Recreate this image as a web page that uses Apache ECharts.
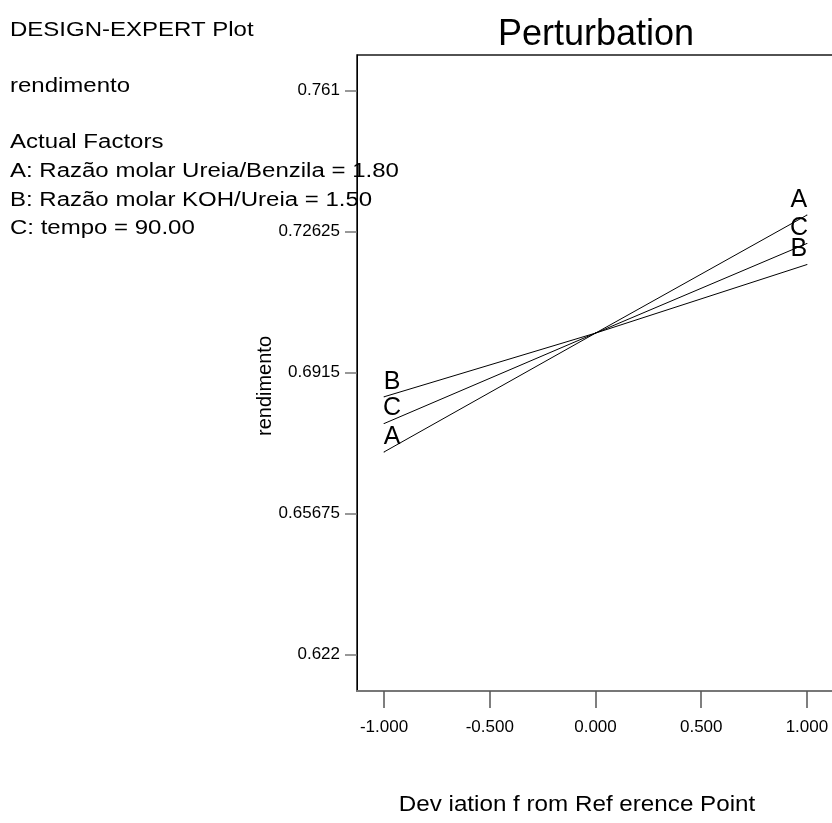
<!DOCTYPE html>
<html>
<head>
<meta charset="utf-8">
<script src="https://cdn.jsdelivr.net/npm/echarts@6/dist/echarts.min.js"></script>
<style>
  html, body { margin: 0; padding: 0; background: #fff; }
  #chart { width: 832px; height: 823px; }
</style>
</head>
<body>
<div id="chart"></div>
<script>
// Perturbation plot: response vs. coded deviation of each factor
const deviation = [-1, 0, 1];
const factorA = [0.6719, 0.7012, 0.7303];
const factorB = [0.6855, 0.7012, 0.7181];
const factorC = [0.6789, 0.7012, 0.7233];
const factorNames = ['A', 'B', 'C'];

const yTickValues = [0.622, 0.65675, 0.6915, 0.72625, 0.761];
const yTickLabels = ['0.622', '0.65675', '0.6915', '0.72625', '0.761'];
const xTickValues = [-1, -0.5, 0, 0.5, 1];
const xTickLabels = ['-1.000', '-0.500', '0.000', '0.500', '1.000'];

const headerLines = [
  'DESIGN-EXPERT Plot',
  'rendimento',
  'Actual Factors',
  'A: Razão molar Ureia/Benzila = 1.80',
  'B: Razão molar KOH/Ureia = 1.50',
  'C: tempo = 90.00'
];
const headerBaselines = [37, 93, 149, 178, 207, 235];

const FONT = 'Arial, "Liberation Sans", sans-serif';

function buildSeries(name, values) {
  const last = values.length - 1;
  const data = deviation.map((x, i) => {
    const item = { value: [x, values[i]] };
    if (i === 0 || i === last) {
      item.label = {
        show: true,
        formatter: name,
        position: 'top',
        distance: 2,
        offset: [i === 0 ? 8 : -8, 0]
      };
    }
    return item;
  });
  return {
    type: 'line',
    name: name,
    data: data,
    symbol: 'circle',
    symbolSize: 1,
    itemStyle: { color: '#000' },
    lineStyle: { color: '#000', width: 1 },
    label: { color: '#000', fontSize: 25, fontFamily: FONT },
    emphasis: { disabled: true },
    silent: true,
    z: 3
  };
}

const graphics = headerLines.map((t, i) => ({
  type: 'text',
  x: 10,
  y: headerBaselines[i] - 7,
  scaleX: 1.2,
  style: {
    text: t,
    font: '20px ' + FONT,
    fill: '#000',
    align: 'left',
    verticalAlign: 'middle'
  },
  z: 10
}));

graphics.push({
  type: 'text',
  x: 265,
  y: 386,
  rotation: Math.PI / 2,
  style: {
    text: 'rendimento',
    font: '20px ' + FONT,
    fill: '#000',
    align: 'center',
    verticalAlign: 'middle'
  }
});

graphics.push({
  type: 'text',
  x: 577,
  y: 805,
  scaleX: 1.1,
  style: {
    text: 'Dev iation f rom Ref erence Point',
    font: '22px ' + FONT,
    fill: '#000',
    align: 'center',
    verticalAlign: 'middle'
  }
});

const option = {
  animation: false,
  backgroundColor: '#fff',
  title: {
    text: 'Perturbation',
    left: 591,
    top: 12,
    textAlign: 'center',
    textStyle: { fontSize: 36, fontWeight: 'normal', color: '#000', fontFamily: FONT }
  },
  grid: {
    left: 357,
    top: 55,
    right: -2,
    bottom: 132,
    outerBoundsMode: 'none',
    containLabel: false,
    show: true,
    borderColor: '#1a1a1a',
    borderWidth: 1.5,
    backgroundColor: 'transparent'
  },
  xAxis: {
    type: 'value',
    min: -1.128,
    max: 1.128,
    splitLine: { show: false },
    axisLine: { show: true, onZero: false, lineStyle: { color: '#777', width: 2 } },
    axisTick: {
      show: true,
      customValues: xTickValues,
      length: 17,
      inside: false,
      lineStyle: { color: '#555', width: 1.5 }
    },
    axisLabel: {
      customValues: xTickValues,
      formatter: v => xTickLabels[xTickValues.indexOf(v)] ?? v.toFixed(3),
      margin: 28,
      fontSize: 17,
      color: '#000',
      fontFamily: FONT
    }
  },
  yAxis: {
    type: 'value',
    min: 0.61296,
    max: 0.76977,
    splitLine: { show: false },
    axisLine: { show: true, onZero: false, lineStyle: { color: '#000', width: 1 } },
    axisTick: {
      show: true,
      customValues: yTickValues,
      length: 12,
      lineStyle: { color: '#777', width: 1.5 }
    },
    axisLabel: {
      customValues: yTickValues,
      formatter: v => {
        const k = yTickValues.findIndex(t => Math.abs(t - v) < 1e-9);
        return k >= 0 ? yTickLabels[k] : String(v);
      },
      margin: 17,
      fontSize: 17,
      color: '#000',
      fontFamily: FONT
    }
  },
  graphic: graphics,
  series: [
    buildSeries(factorNames[0], factorA),
    buildSeries(factorNames[1], factorB),
    buildSeries(factorNames[2], factorC)
  ]
};

const chart = echarts.init(document.getElementById('chart'), null, { renderer: 'canvas' });
chart.setOption(option);
</script>
</body>
</html>
